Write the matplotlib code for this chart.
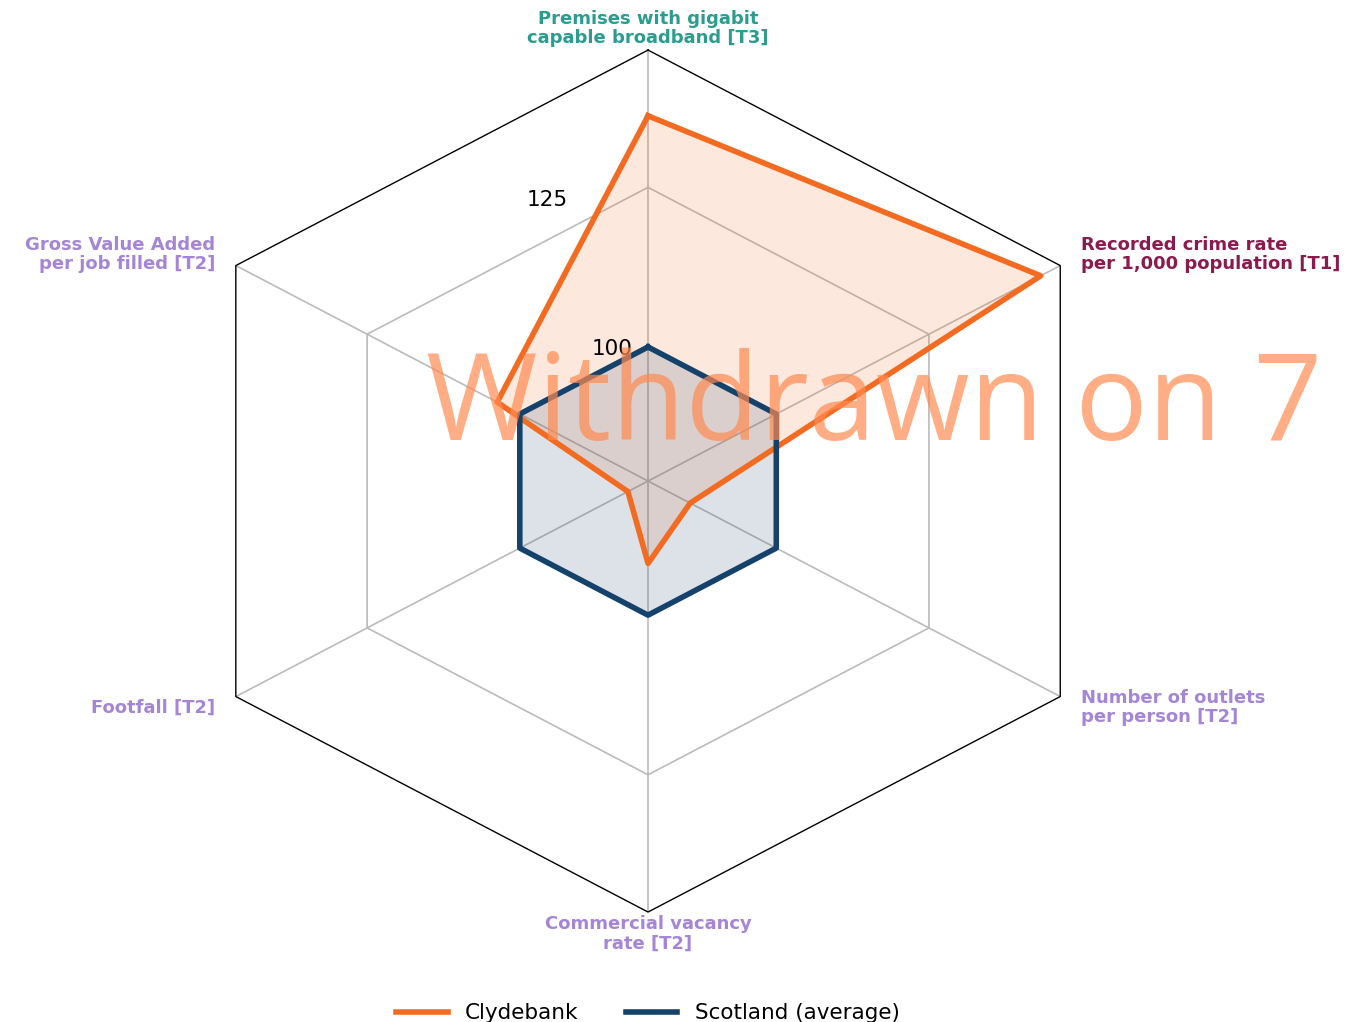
import numpy as np
import matplotlib
matplotlib.use("Agg")
import matplotlib.pyplot as plt

categories = [
    "Premises with gigabit\ncapable broadband [T3]",
    "Gross Value Added\nper job filled [T2]",
    "Footfall [T2]",
    "Commercial vacancy\nrate [T2]",
    "Number of outlets\nper person [T2]",
    "Recorded crime rate\nper 1,000 population [T1]",
]
label_colors = ["#2a9d8f", "#a585d6", "#a585d6", "#a585d6", "#a585d6", "#8b1a4f"]
clydebank = [136.2, 103.7, 82.3, 91.9, 85.9, 143.3]
scotland = [100, 100, 100, 100, 100, 100]
rticks = [100, 125]
rmin, rmax = 79.0, 146.5

orange = "#f26b21"
navy = "#14426b"

fig = plt.figure(figsize=(13.58, 10.22), dpi=100)
ax = fig.add_axes([0.1267, 0.1076, 0.701, 0.8434], projection="polar")
ax.set_aspect("auto")
ax.set_theta_offset(np.pi / 2)

n = len(categories)
theta = np.linspace(0, 2 * np.pi, n, endpoint=False)
tc = np.concatenate([theta, theta[:1]])

ax.set_ylim(rmin, rmax)
ax.set_yticks([])
ax.set_xticks(theta)
ax.set_xticklabels([])
ax.xaxis.grid(True, color="#bbbbbb", linewidth=1.2)
ax.yaxis.grid(False)
ax.spines["polar"].set_visible(False)

# polygon grid
for rt in rticks:
    ax.plot(tc, [rt] * (n + 1), color="#bbbbbb", linewidth=1.2, zorder=1)
ax.plot(tc, [rmax] * (n + 1), color="black", linewidth=1.0, zorder=5, clip_on=False)

def closed(v):
    return list(v) + [v[0]]

ax.fill(tc, closed(clydebank), color=orange, alpha=0.15, zorder=2)
ax.plot(tc, closed(clydebank), color=orange, linewidth=4, zorder=3, label="Clydebank")
ax.fill(tc, closed(scotland), color=navy, alpha=0.15, zorder=2)
ax.plot(tc, closed(scotland), color=navy, linewidth=4, zorder=3, label="Scotland (average)")

# r tick labels
for rt, ang in zip(rticks, [104, 108]):
    ax.text(np.deg2rad(ang - 90), rt + 0.3, str(rt), ha="center", va="center", fontsize=15.5, zorder=4)

# category labels
rlab = rmin + 1.05 * (rmax - rmin)
for ang, lab, col in zip(theta, categories, label_colors):
    deg = (np.rad2deg(ang) + 90) % 360
    x = np.cos(np.deg2rad(deg))
    if abs(x) < 0.01:
        ha = "center"
    elif x > 0:
        ha = "left"
    else:
        ha = "right"
    ax.text(ang, rlab, lab, ha=ha, va="center", color=col, fontsize=13,
            fontweight="bold", linespacing=1.1, multialignment=ha if ha != "center" else "center")

# watermark
fig.text(0.6436, 0.5695, "Withdrawn on 7", fontsize=87, color="#ff8a50", alpha=0.7,
         ha="center", va="baseline", zorder=4, family=["Open Sans", "DejaVu Sans"])

fig.legend(loc="lower center", bbox_to_anchor=(0.477, -0.02), ncol=2, frameon=False,
           fontsize=15.5, handlelength=2.4, columnspacing=2.2)

fig.savefig("out.png", dpi=100)
